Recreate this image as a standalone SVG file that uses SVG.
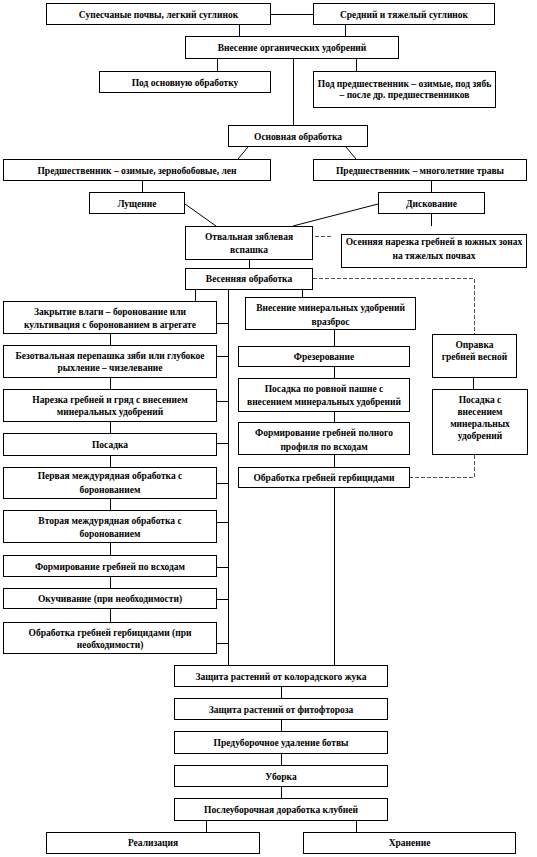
<svg xmlns="http://www.w3.org/2000/svg" width="537" height="857" viewBox="0 0 537 857">
<style>
rect{fill:#fff;stroke:#000;stroke-width:1}
text{font-family:"Liberation Serif","Times New Roman",serif;font-weight:bold;font-size:9.5px;text-anchor:middle;fill:#000}
.c line,.c path{stroke:#000;stroke-width:1;fill:none}
.c .d{stroke:#555;stroke-dasharray:4,2}
</style>
<rect x="0" y="0" width="537" height="857" style="stroke:none"/>
<g class="c" id="connectors">
<line x1="271" y1="14.5" x2="313" y2="14.5"/>
<line x1="239.5" y1="25" x2="239.5" y2="36"/>
<line x1="345.5" y1="25" x2="345.5" y2="36"/>
<line x1="217.5" y1="59" x2="217.5" y2="71"/>
<line x1="356.5" y1="59" x2="356.5" y2="71"/>
<line x1="293.5" y1="59" x2="293.5" y2="125"/>
<line x1="248" y1="147" x2="238" y2="159"/>
<line x1="346" y1="147" x2="356" y2="159"/>
<line x1="142.5" y1="181" x2="142.5" y2="192"/>
<line x1="431.5" y1="181" x2="431.5" y2="192"/>
<line x1="185" y1="204" x2="216" y2="226"/>
<line x1="378" y1="204" x2="293" y2="226"/>
<line x1="431.5" y1="214" x2="431.5" y2="226"/>
<line class="d" x1="315" y1="236.5" x2="333" y2="236.5"/>
<line x1="249.5" y1="260" x2="249.5" y2="268"/>
<line x1="195.5" y1="290" x2="195.5" y2="301"/>
<line x1="228.5" y1="290" x2="228.5" y2="665"/>
<line x1="217" y1="323.5" x2="228.5" y2="323.5"/>
<line x1="217" y1="356.5" x2="228.5" y2="356.5"/>
<line x1="217" y1="401.5" x2="228.5" y2="401.5"/>
<line x1="217" y1="443.5" x2="228.5" y2="443.5"/>
<line x1="217" y1="483.5" x2="228.5" y2="483.5"/>
<line x1="217" y1="522.5" x2="228.5" y2="522.5"/>
<line x1="217" y1="567.5" x2="228.5" y2="567.5"/>
<line x1="217" y1="599.5" x2="228.5" y2="599.5"/>
<line x1="217" y1="643.5" x2="228.5" y2="643.5"/>
<line x1="110.5" y1="334" x2="110.5" y2="345"/>
<line x1="110.5" y1="378" x2="110.5" y2="389"/>
<line x1="110.5" y1="422" x2="110.5" y2="433"/>
<line x1="110.5" y1="456" x2="110.5" y2="467"/>
<line x1="110.5" y1="499" x2="110.5" y2="510"/>
<line x1="110.5" y1="543" x2="110.5" y2="555"/>
<line x1="110.5" y1="577" x2="110.5" y2="588"/>
<line x1="110.5" y1="609" x2="110.5" y2="622"/>
<line x1="302.5" y1="290" x2="302.5" y2="297"/>
<line x1="334.5" y1="330" x2="334.5" y2="346"/>
<line x1="334.5" y1="367" x2="334.5" y2="378"/>
<line x1="334.5" y1="412" x2="334.5" y2="422"/>
<line x1="334.5" y1="455" x2="334.5" y2="467"/>
<line x1="334.5" y1="488" x2="334.5" y2="665"/>
<line x1="473.5" y1="378" x2="473.5" y2="389"/>
<path class="d" d="M313 278.5H474.5V334"/>
<path class="d" d="M474.5 455V477.5H410"/>
<line x1="281.5" y1="687" x2="281.5" y2="698"/>
<line x1="281.5" y1="720" x2="281.5" y2="731"/>
<line x1="281.5" y1="754" x2="281.5" y2="765"/>
<line x1="281.5" y1="787" x2="281.5" y2="798"/>
<line x1="206.5" y1="821" x2="206.5" y2="832"/>
<line x1="356.5" y1="821" x2="356.5" y2="832"/>
</g>
<g id="n1"><rect x="46.5" y="3.5" width="224" height="21"/><text x="158.5" y="17.5">Супесчаные почвы, легкий суглинок</text></g>
<g id="n2"><rect x="313.5" y="3.5" width="181" height="21"/><text x="404" y="17.5">Средний и тяжелый суглинок</text></g>
<g id="n3"><rect x="185.5" y="36.5" width="213" height="22"/><text x="292" y="51">Внесение органических удобрений</text></g>
<g id="n4"><rect x="99.5" y="71.5" width="171" height="21"/><text x="185" y="85.5">Под основную обработку</text></g>
<g id="n5"><rect x="313.5" y="71.5" width="182" height="36"/><text x="404.5" y="86.5">Под предшественник – озимые, под зябь</text><text x="404.5" y="97.5">– после др. предшественников</text></g>
<g id="n6"><rect x="228.5" y="125.5" width="139" height="21"/><text x="298" y="139.5">Основная обработка</text></g>
<g id="n7"><rect x="3.5" y="159.5" width="267" height="21"/><text x="137" y="173.5">Предшественник – озимые, зернобобовые, лен</text></g>
<g id="n8"><rect x="313.5" y="159.5" width="213" height="21"/><text x="420" y="173.5">Предшественник – многолетние травы</text></g>
<g id="n9"><rect x="89.5" y="192.5" width="95" height="21"/><text x="137" y="206.5">Лущение</text></g>
<g id="n10"><rect x="378.5" y="192.5" width="106" height="21"/><text x="431.5" y="206.5">Дискование</text></g>
<g id="n11"><rect x="185.5" y="226.5" width="127" height="33"/><text x="249" y="240">Отвальная зяблевая</text><text x="249" y="253">вспашка</text></g>
<g id="n12"><rect x="341.5" y="234.5" width="185" height="33"/><text x="434" y="245">Осенняя нарезка гребней в южных зонах</text><text x="434" y="259">на тяжелых почвах</text></g>
<g id="n13"><rect x="185.5" y="268.5" width="127" height="21"/><text x="249" y="282">Весенняя обработка</text></g>
<g id="n14"><rect x="3.5" y="301.5" width="213" height="32"/><text x="110" y="315">Закрытие влаги – боронование или</text><text x="110" y="328">культивация с боронованием в агрегате</text></g>
<g id="n15"><rect x="3.5" y="345.5" width="213" height="32"/><text x="110" y="359">Безотвальная перепашка зяби или глубокое</text><text x="110" y="371">рыхление – чизелевание</text></g>
<g id="n16"><rect x="3.5" y="389.5" width="213" height="32"/><text x="110" y="403">Нарезка гребней и гряд с внесением</text><text x="110" y="415">минеральных удобрений</text></g>
<g id="n17"><rect x="3.5" y="433.5" width="213" height="22"/><text x="110" y="447.5">Посадка</text></g>
<g id="n18"><rect x="3.5" y="467.5" width="213" height="31"/><text x="110" y="479">Первая междурядная обработка с</text><text x="110" y="493">боронованием</text></g>
<g id="n19"><rect x="3.5" y="510.5" width="213" height="32"/><text x="110" y="524">Вторая междурядная обработка с</text><text x="110" y="537">боронованием</text></g>
<g id="n20"><rect x="3.5" y="555.5" width="213" height="21"/><text x="110" y="569.5">Формирование гребней по всходам</text></g>
<g id="n21"><rect x="3.5" y="588.5" width="213" height="20"/><text x="110" y="601.5">Окучивание (при необходимости)</text></g>
<g id="n22"><rect x="3.5" y="622.5" width="213" height="31"/><text x="110" y="636">Обработка гребней гербицидами (при</text><text x="110" y="648">необходимости)</text></g>
<g id="n23"><rect x="245.5" y="297.5" width="170" height="32"/><text x="330.5" y="311">Внесение минеральных удобрений</text><text x="330.5" y="325">вразброс</text></g>
<g id="n24"><rect x="238.5" y="346.5" width="171" height="20"/><text x="324" y="360">Фрезерование</text></g>
<g id="n25"><rect x="238.5" y="378.5" width="171" height="33"/><text x="324" y="392">Посадка по ровной пашне с</text><text x="324" y="405">внесением минеральных удобрений</text></g>
<g id="n26"><rect x="238.5" y="422.5" width="171" height="32"/><text x="324" y="436">Формирование гребней полного</text><text x="324" y="450">профиля по всходам</text></g>
<g id="n27"><rect x="238.5" y="467.5" width="171" height="20"/><text x="324" y="481">Обработка гребней гербицидами</text></g>
<g id="n28"><rect x="432.5" y="334.5" width="84" height="43"/><text x="474.5" y="348">Оправка</text><text x="474.5" y="360">гребней весной</text></g>
<g id="n29"><rect x="432.5" y="389.5" width="95" height="65"/><text x="480" y="403">Посадка с</text><text x="480" y="415">внесением</text><text x="480" y="427">минеральных</text><text x="480" y="439">удобрений</text></g>
<g id="n30"><rect x="174.5" y="665.5" width="213" height="21"/><text x="281" y="679.5">Защита растений от колорадского жука</text></g>
<g id="n31"><rect x="174.5" y="698.5" width="213" height="21"/><text x="281" y="712.5">Защита растений от фитофтороза</text></g>
<g id="n32"><rect x="174.5" y="731.5" width="213" height="22"/><text x="281" y="745.5">Предуборочное удаление ботвы</text></g>
<g id="n33"><rect x="174.5" y="765.5" width="213" height="21"/><text x="281" y="779.5">Уборка</text></g>
<g id="n34"><rect x="174.5" y="798.5" width="213" height="22"/><text x="281" y="812.5">Послеуборочная доработка клубней</text></g>
<g id="n35"><rect x="46.5" y="832.5" width="213" height="21"/><text x="153" y="846">Реализация</text></g>
<g id="n36"><rect x="303.5" y="832.5" width="212" height="21"/><text x="409.5" y="846">Хранение</text></g>
</svg>
